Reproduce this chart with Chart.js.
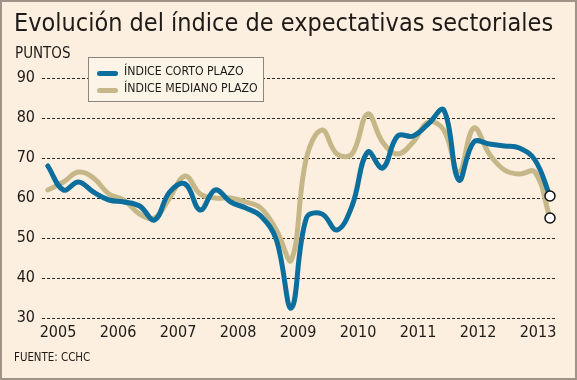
<!DOCTYPE html>
<html lang="es">
<head>
<meta charset="utf-8">
<script src="https://cdn.jsdelivr.net/npm/chart.js@4.4.1/dist/chart.umd.min.js"></script>
<style>
  html, body { margin: 0; padding: 0; }
  body { width: 577px; height: 380px; overflow: hidden; }
  #frame {
    position: relative; width: 577px; height: 380px;
    background: #fcefdf; box-shadow: inset 0 0 0 2px #a09488;
    font-family: 'DejaVu Sans Condensed', 'Noto Sans', sans-serif; color: #1e1a17;
  }
  #chart { position: absolute; left: 0; top: 0; }
  .title { position: absolute; left: 14px; top: 8px; font-size: 25px; white-space: nowrap; }
  .unit { position: absolute; left: 15px; top: 44px; font-size: 15px; }
  .source { position: absolute; left: 14px; top: 350px; font-size: 11.4px; }
  .legend {
    position: absolute; left: 88px; top: 57px; width: 174px; height: 43px;
    border: 1px solid #8c8580; background: #fdf4e8; font-size: 12.2px;
  }
  .legend div { position: absolute; left: 35px; white-space: nowrap; }
  .legend span { position: absolute; left: -27px; top: 7px; width: 21px; height: 5px; border-radius: 3px; }
</style>
</head>
<body>
<div id="frame">
  <canvas id="chart" width="577" height="380"></canvas>
  <div class="title">Evolución del índice de expectativas sectoriales</div>
  <div class="unit">PUNTOS</div>
  <div class="legend">
    <div style="top:6px"><span style="background:#0b6e9c"></span>ÍNDICE CORTO PLAZO</div>
    <div style="top:23px"><span style="background:#c6b789"></span>ÍNDICE MEDIANO PLAZO</div>
  </div>
  <div class="source">FUENTE: CCHC</div>
</div>
<script>
// -----------------------------
// DATA (quarterly, IV-2004 .. I-2013)
// -----------------------------
const periods = [
  2004.83, 2005.09, 2005.34, 2005.59, 2005.85, 2006.10, 2006.36, 2006.61, 2006.86,
  2007.12, 2007.37, 2007.62, 2007.88, 2008.13, 2008.38, 2008.64, 2008.89, 2009.14,
  2009.40, 2009.65, 2009.90, 2010.16, 2010.41, 2010.66, 2010.92, 2011.17, 2011.43,
  2011.68, 2011.93, 2012.19, 2012.44, 2012.69, 2012.95, 2013.20
];
const cortoPlazo = [
  68, 62, 64, 61.5, 59.5, 59, 58, 54.5, 61.5,
  63.5, 57, 62, 59, 57.5, 55.5, 49.5, 32.5, 55,
  56, 52, 58, 71.5, 67.5, 75.5, 75.5, 78.5, 82,
  64.5, 74, 73.5, 73, 72.5, 69.5, 60.5
];
const medianoPlazo = [
  62, 64, 66.5, 65, 61, 59.5, 56, 55, 60,
  65.5, 61, 60, 60, 59, 57.5, 52, 44.5, 70,
  77, 71, 71, 81, 74, 71, 74, 79, 77,
  66.5, 77.5, 71, 67, 66, 66.5, 55
];
const yearTicks = [2005, 2006, 2007, 2008, 2009, 2010, 2011, 2012, 2013];

const toPoints = arr => arr.map((v, i) => ({ x: periods[i], y: v }));
const lastOnly = ctx => ctx.dataIndex === periods.length - 1 ? 5 : 0;

const fontFamily = "'DejaVu Sans Condensed', 'Noto Sans', sans-serif";

new Chart(document.getElementById('chart').getContext('2d'), {
  type: 'line',
  data: {
    datasets: [{
      label: 'ÍNDICE CORTO PLAZO',
      data: toPoints(cortoPlazo),
      borderColor: '#0b6e9c',
      pointBorderColor: '#111111'
    }, {
      label: 'ÍNDICE MEDIANO PLAZO',
      data: toPoints(medianoPlazo),
      borderColor: '#c6b789',
      pointBorderColor: '#111111'
    }]
  },
  options: {
    responsive: false,
    animation: false,
    layout: { padding: { left: 0, top: 78, right: 20, bottom: 0 } },
    elements: {
      line: { borderWidth: 5, tension: 0.4, borderCapStyle: 'round', fill: false },
      point: {
        radius: lastOnly, hoverRadius: lastOnly,
        backgroundColor: '#ffffff', borderWidth: 1.5
      }
    },
    plugins: { legend: { display: false }, tooltip: { enabled: false } },
    scales: {
      x: {
        type: 'linear',
        min: 2004.733,
        max: 2013.317,
        afterBuildTicks: scale => { scale.ticks = yearTicks.map(v => ({ value: v })); },
        afterFit: scale => { scale.height = 62; },
        grid: { display: false, drawTicks: false },
        border: { display: false },
        ticks: {
          padding: 5,
          color: '#1e1a17',
          font: { family: fontFamily, size: 16 },
          callback: v => String(v),
          maxRotation: 0,
          autoSkip: false
        }
      },
      y: {
        min: 30,
        max: 90,
        afterFit: scale => { scale.width = 42; },
        grid: { color: '#2b2723', lineWidth: 1, drawTicks: false },
        border: { display: false, dash: [3, 2] },
        ticks: {
          stepSize: 10,
          padding: 7,
          color: '#1e1a17',
          font: { family: fontFamily, size: 16 }
        }
      }
    }
  }
});
</script>
</body>
</html>
